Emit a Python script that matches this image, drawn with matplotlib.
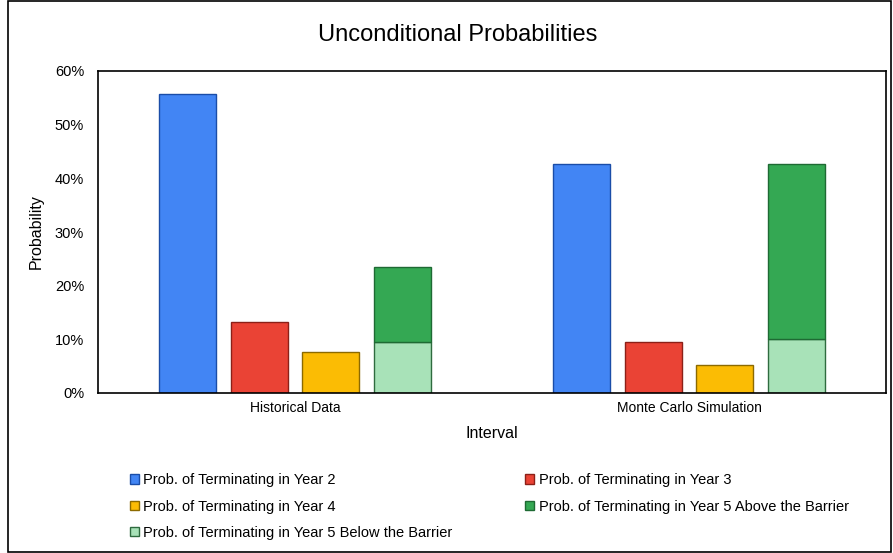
import matplotlib
matplotlib.use("Agg")
import matplotlib.pyplot as plt
import numpy as np
from matplotlib.patches import Rectangle
from matplotlib.ticker import PercentFormatter

categories = ["Historical Data", "Monte Carlo Simulation"]
year2 = [0.557, 0.427]
year3 = [0.132, 0.095]
year4 = [0.076, 0.052]
year5_below = [0.095, 0.101]
year5_above = [0.140, 0.326]

labels = ["Prob. of Terminating in Year 2", "Prob. of Terminating in Year 3",
          "Prob. of Terminating in Year 4", "Prob. of Terminating in Year 5 Above the Barrier",
          "Prob. of Terminating in Year 5 Below the Barrier"]
colors = ["#4285F4", "#EA4335", "#FBBC04", "#34A853", "#A8E2B8"]
edges = ["#1A4DA8", "#8C2018", "#8C6A00", "#1E6A33", "#2F6B3F"]

plt.rcParams['font.family'] = ['Liberation Sans', 'DejaVu Sans']
fig = plt.figure(figsize=(8.93, 5.53), dpi=100)
ax = fig.add_axes([98/893, 1-393/553, 788/893, 322/553])

x = np.arange(len(categories))
step = 0.1815
w = 0.145
h2 = ax.bar(x - 1.5*step, year2, w, color=colors[0], edgecolor=edges[0], lw=1)
h3 = ax.bar(x - 0.5*step, year3, w, color=colors[1], edgecolor=edges[1], lw=1)
h4 = ax.bar(x + 0.5*step, year4, w, color=colors[2], edgecolor=edges[2], lw=1)
h5b = ax.bar(x + 1.5*step, year5_below, w, color=colors[4], edgecolor=edges[4], lw=1)
h5a = ax.bar(x + 1.5*step, year5_above, w, bottom=year5_below, color=colors[3], edgecolor=edges[3], lw=1)

ax.set_xlim(-0.5, 1.5)
ax.set_ylim(0, 0.6)
ax.set_yticks(np.arange(0, 0.61, 0.1))
ax.yaxis.set_major_formatter(PercentFormatter(1.0, decimals=0))
ax.set_xticks(x)
ax.set_xticklabels(categories, fontsize=10)
ax.tick_params(axis='y', labelsize=10.5, length=0, pad=10)
ax.tick_params(axis='x', length=0, pad=6)
for s in ax.spines.values():
    s.set_linewidth(1.2)
ax.set_ylabel("Probability", fontsize=11.5, labelpad=8)
ax.set_xlabel("Interval", fontsize=11.5, labelpad=8)
fig.text(458/893, 1-35/553, "Unconditional Probabilities", ha='center', va='center', fontsize=17)

# column-major order so rows read: (Y2, Y3), (Y4, Y5 above), (Y5 below)
handles = [h2, h4, h5b, h3, h5a]
leg_labels = [labels[0], labels[2], labels[4], labels[1], labels[3]]
leg = fig.legend(handles, leg_labels, loc='upper left', bbox_to_anchor=(117/893, 1-460/553),
                 ncol=2, frameon=False, fontsize=10.5, handlelength=0.6, handleheight=0.6,
                 handletextpad=0.3, columnspacing=5.0, labelspacing=0.85)

fig.patches.append(Rectangle((8/893, 0.002), 0.998 - 8/893, 0.996, transform=fig.transFigure,
                             fill=False, edgecolor='black', lw=1.2))
fig.savefig("out.png", dpi=100)
